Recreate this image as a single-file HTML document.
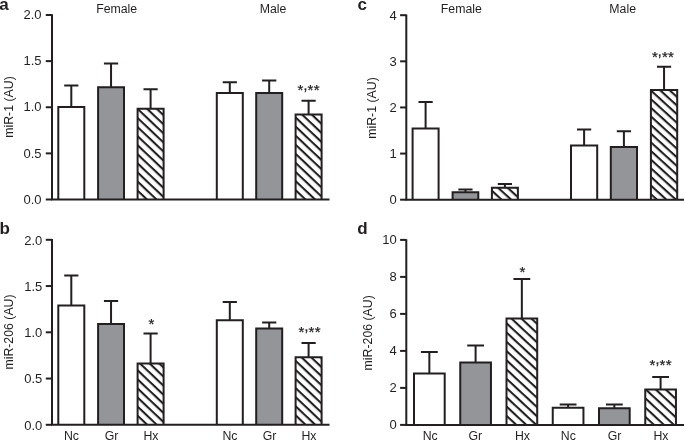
<!DOCTYPE html>
<html><head><meta charset="utf-8"><title>figure</title>
<style>
html,body{margin:0;padding:0;background:#fff;}
body{width:685px;height:440px;overflow:hidden;}
svg{display:block;will-change:transform;}
text{font-family:"Liberation Sans",sans-serif;fill:#231f20;}
.t{font-size:12.3px;}
.k{font-size:13px;}
.c{font-size:14px;stroke:#231f20;stroke-width:0.3px;}
.s{font-size:15.0px;stroke:#231f20;stroke-width:0.25px;}
.L{font-size:17px;font-weight:bold;}
</style></head><body>
<svg width="685" height="440" viewBox="0 0 685 440">
<defs>
<pattern id="h0" patternUnits="userSpaceOnUse" width="6.6" height="6.6" patternTransform="rotate(43.4) translate(0 3.354)"><rect x="0" y="0" width="6.6" height="2.1" fill="#231f20"/></pattern><pattern id="h1" patternUnits="userSpaceOnUse" width="6.6" height="6.6" patternTransform="rotate(43.4) translate(0 0.031)"><rect x="0" y="0" width="6.6" height="2.1" fill="#231f20"/></pattern><pattern id="h2" patternUnits="userSpaceOnUse" width="6.6" height="6.6" patternTransform="rotate(43.4) translate(0 1.869)"><rect x="0" y="0" width="6.6" height="2.1" fill="#231f20"/></pattern><pattern id="h3" patternUnits="userSpaceOnUse" width="6.6" height="6.6" patternTransform="rotate(43.4) translate(0 5.207)"><rect x="0" y="0" width="6.6" height="2.1" fill="#231f20"/></pattern><pattern id="h4" patternUnits="userSpaceOnUse" width="6.39" height="6.39" patternTransform="rotate(42.3) translate(0 0.717)"><rect x="0" y="0" width="6.39" height="2.1" fill="#231f20"/></pattern><pattern id="h5" patternUnits="userSpaceOnUse" width="6.39" height="6.39" patternTransform="rotate(42.3) translate(0 4.848)"><rect x="0" y="0" width="6.39" height="2.1" fill="#231f20"/></pattern><pattern id="h6" patternUnits="userSpaceOnUse" width="6.78" height="6.78" patternTransform="rotate(42.9) translate(0 6.215)"><rect x="0" y="0" width="6.78" height="2.1" fill="#231f20"/></pattern><pattern id="h7" patternUnits="userSpaceOnUse" width="6.78" height="6.78" patternTransform="rotate(42.9) translate(0 0.606)"><rect x="0" y="0" width="6.78" height="2.1" fill="#231f20"/></pattern>
</defs>
<rect width="685" height="440" fill="#fff"/>
<path d="M71.30 107.00V85.40M64.20 85.40H78.40" stroke="#231f20" stroke-width="2.0" fill="none"/>
<path d="M58.30 199.50V107.00H84.30V199.50" fill="#fff" stroke="#231f20" stroke-width="2.0" stroke-linejoin="miter"/>
<path d="M111.05 87.20V63.60M103.95 63.60H118.15" stroke="#231f20" stroke-width="2.0" fill="none"/>
<path d="M98.10 199.50V87.20H124.00V199.50" fill="#939598" stroke="#231f20" stroke-width="2.0" stroke-linejoin="miter"/>
<path d="M150.60 108.80V89.20M143.50 89.20H157.70" stroke="#231f20" stroke-width="2.0" fill="none"/>
<rect x="137.60" y="108.80" width="26.00" height="90.70" fill="#fff"/>
<path d="M137.60 199.50V108.80H163.60V199.50" fill="url(#h0)" stroke="#231f20" stroke-width="2.0" stroke-linejoin="miter"/>
<path d="M229.80 93.00V82.20M222.70 82.20H236.90" stroke="#231f20" stroke-width="2.0" fill="none"/>
<path d="M216.80 199.50V93.00H242.80V199.50" fill="#fff" stroke="#231f20" stroke-width="2.0" stroke-linejoin="miter"/>
<path d="M269.20 93.00V80.40M262.10 80.40H276.30" stroke="#231f20" stroke-width="2.0" fill="none"/>
<path d="M256.20 199.50V93.00H282.20V199.50" fill="#939598" stroke="#231f20" stroke-width="2.0" stroke-linejoin="miter"/>
<path d="M308.60 114.60V100.80M301.50 100.80H315.70" stroke="#231f20" stroke-width="2.0" fill="none"/>
<rect x="295.60" y="114.60" width="26.00" height="84.90" fill="#fff"/>
<path d="M295.60 199.50V114.60H321.60V199.50" fill="url(#h1)" stroke="#231f20" stroke-width="2.0" stroke-linejoin="miter"/>
<path d="M52 14.25V199.5H329.5" stroke="#231f20" stroke-width="2.0" fill="none"/>
<path d="M45.8 199.50H52" stroke="#231f20" stroke-width="2.0"/>
<text x="41.50" y="203.70" text-anchor="end" class="k">0.0</text>
<path d="M45.8 153.38H52" stroke="#231f20" stroke-width="2.0"/>
<text x="41.50" y="157.57" text-anchor="end" class="k">0.5</text>
<path d="M45.8 107.25H52" stroke="#231f20" stroke-width="2.0"/>
<text x="41.50" y="111.45" text-anchor="end" class="k">1.0</text>
<path d="M45.8 61.12H52" stroke="#231f20" stroke-width="2.0"/>
<text x="41.50" y="65.33" text-anchor="end" class="k">1.5</text>
<path d="M45.8 15.00H52" stroke="#231f20" stroke-width="2.0"/>
<text x="41.50" y="19.20" text-anchor="end" class="k">2.0</text>
<text x="-0.8" y="10" class="L">a</text>
<text transform="translate(12.5 107) rotate(-90)" text-anchor="middle" class="t">miR-1 (AU)</text>
<text x="116.7" y="13.2" text-anchor="middle" class="t">Female</text>
<text x="273" y="13.2" text-anchor="middle" class="t">Male</text>
<text x="300.50" y="95.35" text-anchor="middle" class="s">*</text><text x="305.40" y="89.50" text-anchor="middle" class="c">,</text><text x="310.40" y="95.35" text-anchor="middle" class="s">*</text><text x="316.60" y="95.35" text-anchor="middle" class="s">*</text>
<path d="M71.30 305.50V275.50M64.20 275.50H78.40" stroke="#231f20" stroke-width="2.0" fill="none"/>
<path d="M58.30 424.80V305.50H84.30V424.80" fill="#fff" stroke="#231f20" stroke-width="2.0" stroke-linejoin="miter"/>
<path d="M111.05 324.00V301.00M103.95 301.00H118.15" stroke="#231f20" stroke-width="2.0" fill="none"/>
<path d="M98.10 424.80V324.00H124.00V424.80" fill="#939598" stroke="#231f20" stroke-width="2.0" stroke-linejoin="miter"/>
<path d="M150.60 363.50V333.50M143.50 333.50H157.70" stroke="#231f20" stroke-width="2.0" fill="none"/>
<rect x="137.60" y="363.50" width="26.00" height="61.30" fill="#fff"/>
<path d="M137.60 424.80V363.50H163.60V424.80" fill="url(#h2)" stroke="#231f20" stroke-width="2.0" stroke-linejoin="miter"/>
<path d="M229.80 320.20V302.10M222.70 302.10H236.90" stroke="#231f20" stroke-width="2.0" fill="none"/>
<path d="M216.80 424.80V320.20H242.80V424.80" fill="#fff" stroke="#231f20" stroke-width="2.0" stroke-linejoin="miter"/>
<path d="M269.20 328.50V322.50M262.10 322.50H276.30" stroke="#231f20" stroke-width="2.0" fill="none"/>
<path d="M256.20 424.80V328.50H282.20V424.80" fill="#939598" stroke="#231f20" stroke-width="2.0" stroke-linejoin="miter"/>
<path d="M308.60 357.20V343.00M301.50 343.00H315.70" stroke="#231f20" stroke-width="2.0" fill="none"/>
<rect x="295.60" y="357.20" width="26.00" height="67.60" fill="#fff"/>
<path d="M295.60 424.80V357.20H321.60V424.80" fill="url(#h3)" stroke="#231f20" stroke-width="2.0" stroke-linejoin="miter"/>
<path d="M52 239.05V424.8H329.5" stroke="#231f20" stroke-width="2.0" fill="none"/>
<path d="M45.8 424.80H52" stroke="#231f20" stroke-width="2.0"/>
<text x="42.30" y="429.50" text-anchor="end" class="k">0.0</text>
<path d="M45.8 378.55H52" stroke="#231f20" stroke-width="2.0"/>
<text x="42.30" y="383.25" text-anchor="end" class="k">0.5</text>
<path d="M45.8 332.30H52" stroke="#231f20" stroke-width="2.0"/>
<text x="42.30" y="337.00" text-anchor="end" class="k">1.0</text>
<path d="M45.8 286.05H52" stroke="#231f20" stroke-width="2.0"/>
<text x="42.30" y="290.75" text-anchor="end" class="k">1.5</text>
<path d="M45.8 239.80H52" stroke="#231f20" stroke-width="2.0"/>
<text x="42.30" y="244.50" text-anchor="end" class="k">2.0</text>
<text x="-0.5" y="233.5" class="L">b</text>
<text transform="translate(12.9 332) rotate(-90)" text-anchor="middle" class="t">miR-206 (AU)</text>
<text x="71.5" y="439.5" text-anchor="middle" class="t">Nc</text>
<text x="111.5" y="439.5" text-anchor="middle" class="t">Gr</text>
<text x="151" y="439.5" text-anchor="middle" class="t">Hx</text>
<text x="230" y="439.5" text-anchor="middle" class="t">Nc</text>
<text x="269.5" y="439.5" text-anchor="middle" class="t">Gr</text>
<text x="309" y="439.5" text-anchor="middle" class="t">Hx</text>
<text x="151.40" y="329.45" text-anchor="middle" class="s">*</text>
<text x="301.50" y="337.15" text-anchor="middle" class="s">*</text><text x="306.40" y="331.30" text-anchor="middle" class="c">,</text><text x="311.40" y="337.15" text-anchor="middle" class="s">*</text><text x="317.60" y="337.15" text-anchor="middle" class="s">*</text>
<path d="M425.60 128.50V102.00M418.50 102.00H432.70" stroke="#231f20" stroke-width="2.0" fill="none"/>
<path d="M412.60 199.70V128.50H438.60V199.70" fill="#fff" stroke="#231f20" stroke-width="2.0" stroke-linejoin="miter"/>
<path d="M465.45 192.20V189.50M458.35 189.50H472.55" stroke="#231f20" stroke-width="2.0" fill="none"/>
<path d="M452.60 199.70V192.20H478.30V199.70" fill="#939598" stroke="#231f20" stroke-width="2.0" stroke-linejoin="miter"/>
<path d="M504.90 187.80V184.10M497.80 184.10H512.00" stroke="#231f20" stroke-width="2.0" fill="none"/>
<rect x="491.90" y="187.80" width="26.00" height="11.90" fill="#fff"/>
<path d="M491.90 199.70V187.80H517.90V199.70" fill="url(#h4)" stroke="#231f20" stroke-width="2.0" stroke-linejoin="miter"/>
<path d="M584.10 145.60V129.40M577.00 129.40H591.20" stroke="#231f20" stroke-width="2.0" fill="none"/>
<path d="M571.00 199.70V145.60H597.20V199.70" fill="#fff" stroke="#231f20" stroke-width="2.0" stroke-linejoin="miter"/>
<path d="M623.90 146.90V131.20M616.80 131.20H631.00" stroke="#231f20" stroke-width="2.0" fill="none"/>
<path d="M610.80 199.70V146.90H637.00V199.70" fill="#939598" stroke="#231f20" stroke-width="2.0" stroke-linejoin="miter"/>
<path d="M664.05 90.10V66.80M656.95 66.80H671.15" stroke="#231f20" stroke-width="2.0" fill="none"/>
<rect x="650.90" y="90.10" width="26.30" height="109.60" fill="#fff"/>
<path d="M650.90 199.70V90.10H677.20V199.70" fill="url(#h5)" stroke="#231f20" stroke-width="2.0" stroke-linejoin="miter"/>
<path d="M406.3 14.45V199.7H684" stroke="#231f20" stroke-width="2.0" fill="none"/>
<path d="M400.1 199.70H406.3" stroke="#231f20" stroke-width="2.0"/>
<text x="396.70" y="204.20" text-anchor="end" class="k">0</text>
<path d="M400.1 153.57H406.3" stroke="#231f20" stroke-width="2.0"/>
<text x="396.70" y="158.07" text-anchor="end" class="k">1</text>
<path d="M400.1 107.45H406.3" stroke="#231f20" stroke-width="2.0"/>
<text x="396.70" y="111.95" text-anchor="end" class="k">2</text>
<path d="M400.1 61.32H406.3" stroke="#231f20" stroke-width="2.0"/>
<text x="396.70" y="65.82" text-anchor="end" class="k">3</text>
<path d="M400.1 15.20H406.3" stroke="#231f20" stroke-width="2.0"/>
<text x="396.70" y="19.70" text-anchor="end" class="k">4</text>
<text x="357.4" y="9.7" class="L">c</text>
<text transform="translate(376.3 108) rotate(-90)" text-anchor="middle" class="t">miR-1 (AU)</text>
<text x="461.3" y="13.4" text-anchor="middle" class="t">Female</text>
<text x="622.7" y="13.4" text-anchor="middle" class="t">Male</text>
<text x="654.90" y="62.15" text-anchor="middle" class="s">*</text><text x="659.80" y="56.30" text-anchor="middle" class="c">,</text><text x="664.80" y="62.15" text-anchor="middle" class="s">*</text><text x="671.00" y="62.15" text-anchor="middle" class="s">*</text>
<path d="M429.35 373.60V352.10M420.95 352.10H437.75" stroke="#231f20" stroke-width="2.0" fill="none"/>
<path d="M414.00 424.90V373.60H444.70V424.90" fill="#fff" stroke="#231f20" stroke-width="2.0" stroke-linejoin="miter"/>
<path d="M475.60 362.60V345.60M467.20 345.60H484.00" stroke="#231f20" stroke-width="2.0" fill="none"/>
<path d="M460.25 424.90V362.60H490.95V424.90" fill="#939598" stroke="#231f20" stroke-width="2.0" stroke-linejoin="miter"/>
<path d="M521.85 318.50V279.00M513.45 279.00H530.25" stroke="#231f20" stroke-width="2.0" fill="none"/>
<rect x="506.50" y="318.50" width="30.70" height="106.40" fill="#fff"/>
<path d="M506.50 424.90V318.50H537.20V424.90" fill="url(#h6)" stroke="#231f20" stroke-width="2.0" stroke-linejoin="miter"/>
<path d="M568.10 407.80V404.60M559.70 404.60H576.50" stroke="#231f20" stroke-width="2.0" fill="none"/>
<path d="M552.75 424.90V407.80H583.45V424.90" fill="#fff" stroke="#231f20" stroke-width="2.0" stroke-linejoin="miter"/>
<path d="M614.35 408.30V404.60M605.95 404.60H622.75" stroke="#231f20" stroke-width="2.0" fill="none"/>
<path d="M599.00 424.90V408.30H629.70V424.90" fill="#939598" stroke="#231f20" stroke-width="2.0" stroke-linejoin="miter"/>
<path d="M660.60 389.60V377.00M652.20 377.00H669.00" stroke="#231f20" stroke-width="2.0" fill="none"/>
<rect x="645.25" y="389.60" width="30.70" height="35.30" fill="#fff"/>
<path d="M645.25 424.90V389.60H675.95V424.90" fill="url(#h7)" stroke="#231f20" stroke-width="2.0" stroke-linejoin="miter"/>
<path d="M406.3 239.15V424.9H684" stroke="#231f20" stroke-width="2.0" fill="none"/>
<path d="M400.1 424.90H406.3" stroke="#231f20" stroke-width="2.0"/>
<text x="396.70" y="429.40" text-anchor="end" class="k">0</text>
<path d="M400.1 387.90H406.3" stroke="#231f20" stroke-width="2.0"/>
<text x="396.70" y="392.40" text-anchor="end" class="k">2</text>
<path d="M400.1 350.90H406.3" stroke="#231f20" stroke-width="2.0"/>
<text x="396.70" y="355.40" text-anchor="end" class="k">4</text>
<path d="M400.1 313.90H406.3" stroke="#231f20" stroke-width="2.0"/>
<text x="396.70" y="318.40" text-anchor="end" class="k">6</text>
<path d="M400.1 276.90H406.3" stroke="#231f20" stroke-width="2.0"/>
<text x="396.70" y="281.40" text-anchor="end" class="k">8</text>
<path d="M400.1 239.90H406.3" stroke="#231f20" stroke-width="2.0"/>
<text x="396.70" y="244.40" text-anchor="end" class="k">10</text>
<text x="357.2" y="233.5" class="L">d</text>
<text transform="translate(372.3 332.8) rotate(-90)" text-anchor="middle" class="t">miR-206 (AU)</text>
<text x="430.2" y="439.5" text-anchor="middle" class="t">Nc</text>
<text x="475.3" y="439.5" text-anchor="middle" class="t">Gr</text>
<text x="522.5" y="439.5" text-anchor="middle" class="t">Hx</text>
<text x="568.3" y="439.5" text-anchor="middle" class="t">Nc</text>
<text x="614.5" y="439.5" text-anchor="middle" class="t">Gr</text>
<text x="661" y="439.5" text-anchor="middle" class="t">Hx</text>
<text x="522.50" y="276.65" text-anchor="middle" class="s">*</text>
<text x="652.50" y="370.15" text-anchor="middle" class="s">*</text><text x="657.40" y="364.30" text-anchor="middle" class="c">,</text><text x="662.40" y="370.15" text-anchor="middle" class="s">*</text><text x="668.60" y="370.15" text-anchor="middle" class="s">*</text>
</svg>
</body></html>
